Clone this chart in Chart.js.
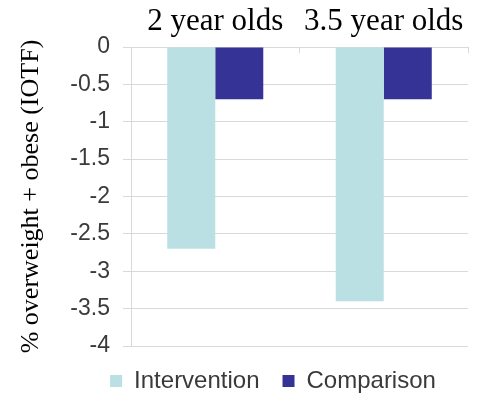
<!DOCTYPE html>
<html>
<head>
<meta charset="utf-8">
<script src="https://cdn.jsdelivr.net/npm/chart.js@4/dist/chart.umd.min.js"></script>
<style>
  html, body { margin: 0; padding: 0; background: #fff; }
  #wrap { width: 481px; height: 394px; position: relative; }
</style>
</head>
<body>
<div id="wrap"><canvas id="chart"></canvas></div>
<script>
// age groups and change in % overweight + obese
const groups = ['2 year olds', '3.5 year olds'];
const intervention = [-2.7, -3.4];
const comparison = [-0.7, -0.7];
const yTicks = [0, -0.5, -1, -1.5, -2, -2.5, -3, -3.5, -4];

const gridColor = '#d9d9d9';
const textColor = '#3a3a3a';

// push the legend row a little to the right, under the plot
const legendNudge = {
  id: 'legendNudge',
  beforeDraw(chart) {
    const lg = chart.legend;
    if (lg && !lg._nudged) {
      lg.left += 39;
      lg.right += 39;
      lg._nudged = true;
    }
  },
};

const ctx = document.getElementById('chart');
const chart = new Chart(ctx, {
  type: 'bar',
  data: {
    labels: groups,
    datasets: [
      {
        label: 'Intervention',
        data: intervention,
        backgroundColor: '#bbe0e3',
        categoryPercentage: 0.57,
        barPercentage: 1,
      },
      {
        label: 'Comparison',
        data: comparison,
        backgroundColor: '#353396',
        categoryPercentage: 0.57,
        barPercentage: 1,
      },
    ],
  },
  plugins: [legendNudge],
  options: {
    responsive: true,
    maintainAspectRatio: false,
    animation: false,
    // legend sits low, so let it run a bit past the bottom edge
    layout: { padding: { top: 0, right: 13, bottom: -9, left: 0 } },
    plugins: {
      tooltip: { enabled: false },
      legend: {
        position: 'bottom',
        labels: {
          boxWidth: 12,
          boxHeight: 12,
          padding: 23,
          color: textColor,
          font: { family: 'Liberation Sans', size: 24 },
        },
      },
    },
    scales: {
      x: {
        position: 'top',
        offset: true,
        grid: {
          offset: true,
          drawOnChartArea: false,
          tickLength: -6,
          color: gridColor,
        },
        border: { color: gridColor },
        ticks: {
          padding: 13,
          color: '#000',
          font: { family: 'Liberation Serif', size: 31 },
        },
        afterFit: function (scale) { scale.height = 47; },
      },
      y: {
        min: -4,
        max: 0,
        afterBuildTicks: function (scale) {
          scale.ticks = yTicks.map(v => ({ value: v }));
        },
        grid: { color: gridColor, tickLength: 8 },
        border: { color: gridColor },
        ticks: {
          padding: 13,
          color: textColor,
          font: { family: 'Liberation Sans', size: 23 },
          callback: v => String(v),
        },
        title: {
          display: true,
          text: '% overweight + obese (IOTF)',
          color: '#000',
          padding: { top: 16, bottom: 0 },
          font: { family: 'Liberation Serif', size: 26 },
        },
        afterFit: function (scale) { scale.width = 131; },
      },
    },
  },
});
</script>
</body>
</html>
